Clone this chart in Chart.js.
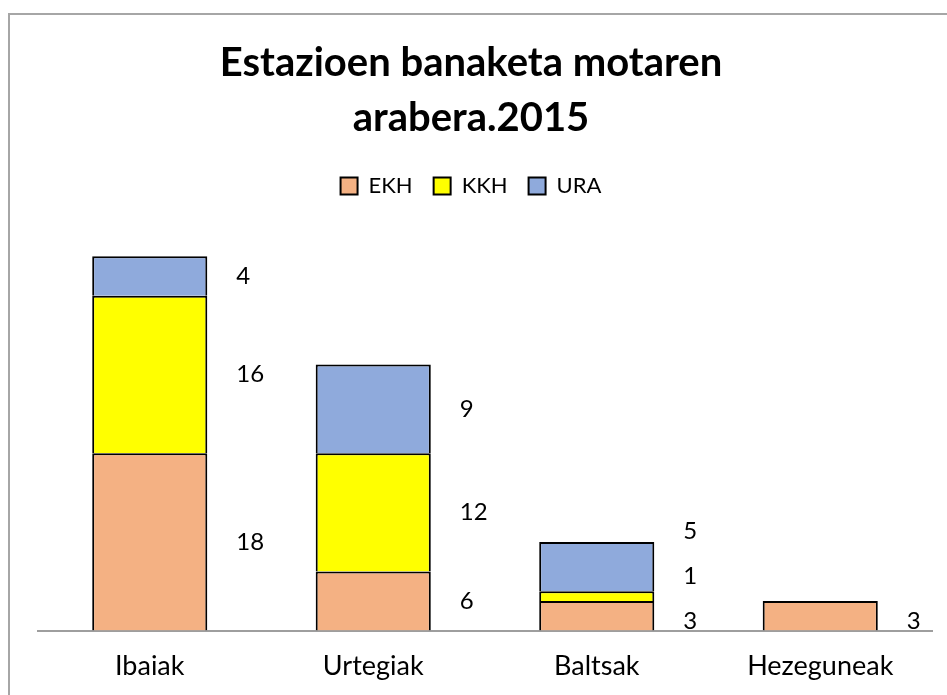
<!DOCTYPE html>
<html>
<head>
<meta charset="utf-8">
<script src="https://cdn.jsdelivr.net/npm/chart.js@4/dist/chart.umd.min.js"></script>
<style>
  html, body { margin: 0; padding: 0; background: #fff; overflow: hidden; }
  #wrap { position: relative; width: 947px; height: 695px; overflow: hidden; }
  #frame {
    position: absolute; left: 8px; top: 13px; width: 960px; height: 720px;
    border: 2px solid #a6a6a6; pointer-events: none;
  }
</style>
</head>
<body>
<div id="wrap">
  <canvas id="chart" width="947" height="716"></canvas>
  <div id="frame"></div>
</div>
<script>
const categories = ["Ibaiak", "Urtegiak", "Baltsak", "Hezeguneak"];
const ekhValues = [18, 6, 3, 3];
const kkhValues = [16, 12, 1, 0];
const uraValues = [4, 9, 5, 0];
const titleLines = ["Estazioen banaketa motaren", "arabera.2015"];

const FONT = "Lato, 'Open Sans', sans-serif";

// value labels to the right of each segment, pushed apart when they crowd
const sideLabels = {
  id: "sideLabels",
  afterDatasetsDraw(chart) {
    const { ctx } = chart;
    ctx.save();
    ctx.font = "24px " + FONT;
    ctx.fillStyle = "#000";
    ctx.textBaseline = "middle";
    ctx.textAlign = "left";
    categories.forEach((c, i) => {
      let prevY = null;
      chart.data.datasets.forEach((ds, d) => {
        const v = ds.data[i];
        if (!v) return;
        const bar = chart.getDatasetMeta(d).data[i];
        let y = (bar.y + bar.base) / 2;
        if (prevY !== null) y = Math.min(y, prevY - 45);
        if (prevY === null && bar.base - bar.y < 40) y = y + 5;
        prevY = y;
        ctx.fillText(String(v), bar.x + bar.width / 2 + 29, y);
      });
    });
    ctx.restore();
  }
};

new Chart(document.getElementById("chart"), {
  type: "bar",
  data: {
    labels: categories,
    datasets: [
      { label: "EKH", data: ekhValues, backgroundColor: "#f4b183", borderColor: "#000", borderWidth: 2 },
      { label: "KKH", data: kkhValues, backgroundColor: "#ffff00", borderColor: "#000", borderWidth: 2 },
      { label: "URA", data: uraValues, backgroundColor: "#8faadc", borderColor: "#000", borderWidth: 2 }
    ]
  },
  options: {
    responsive: false,
    animation: false,
    layout: { padding: { left: 10, right: 15, top: 36, bottom: 15 } },
    datasets: { bar: { barPercentage: 0.515, categoryPercentage: 1 } },
    plugins: {
      title: {
        display: true,
        text: titleLines,
        color: "#000",
        font: { family: FONT, size: 40, weight: "bold", lineHeight: 1.375 },
        padding: { top: 0, bottom: 8 }
      },
      legend: {
        position: "top",
        labels: {
          color: "#000",
          font: { family: FONT, size: 22 },
          boxWidth: 17, boxHeight: 17,
          padding: 21
        }
      },
      tooltip: { enabled: false }
    },
    scales: {
      x: {
        stacked: true,
        grid: { display: false, drawTicks: false },
        border: { color: "#9e9e9e", width: 2 },
        ticks: { color: "#000", font: { family: FONT, size: 27 }, padding: 19 }
      },
      y: {
        stacked: true,
        min: 0,
        max: 43,
        grid: { display: false, drawTicks: false },
        border: { display: false },
        ticks: { display: false },
        afterFit(scale) { scale.width = 28; }
      }
    }
  },
  plugins: [sideLabels]
});
</script>
</body>
</html>
